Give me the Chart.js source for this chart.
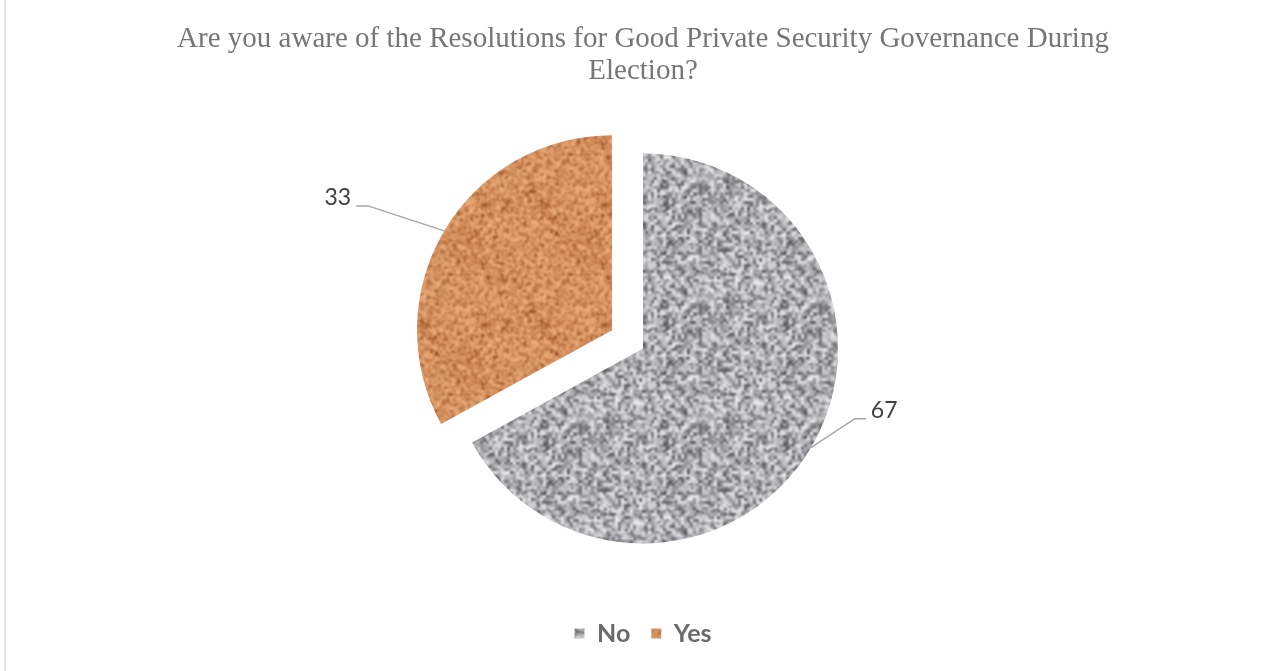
<!DOCTYPE html>
<html>
<head>
<meta charset="utf-8">
<title>Resolutions awareness</title>
<script src="https://cdn.jsdelivr.net/npm/chart.js@4/dist/chart.umd.min.js"></script>
<style>
	body { margin: 0; background: #fff; }
	#wrap { position: relative; width: 1277px; height: 671px; }
	#wrap:before { content: ""; position: absolute; left: 4px; top: 0; bottom: 0; border-left: 2px solid #e4e4e4; }
</style>
</head>
<body>
<div id="wrap"><canvas id="draw" width="1277" height="671"></canvas></div>
<script>
// Survey answers
const answerLabels = ["No", "Yes"];
const answerCounts = [67, 33];
const titleLines = ["Are you aware of the Resolutions for Good Private Security Governance During", "Election?"];

// Styling
const explodeBy = [0, 36]; // pixels each slice is pulled out from the centre
const leaderStyle = [
	{ dx: 44, dy: -29, run: 11, align: "left" },
	{ dx: -76, dy: -25, run: -12, align: "right" },
];

// Small seeded generator so the stone texture looks the same every load
function seeded(seed) {
	let s = seed >>> 0;
	return function () {
		s = (s * 1664525 + 1013904223) >>> 0;
		return s / 4294967296;
	};
}

function makeTexture(dark, light, cell, seed, speck) {
	const rand = seeded(seed);
	const size = 120;
	const raw = document.createElement("canvas");
	raw.width = raw.height = size;
	const rc = raw.getContext("2d");
	for (let y = 0; y < size; y += cell) {
		for (let x = 0; x < size; x += cell) {
			const t = Math.pow(rand(), 0.7);
			const c = dark.map((d, k) => Math.round(d + (light[k] - d) * t));
			rc.fillStyle = `rgb(${c[0]},${c[1]},${c[2]})`;
			rc.fillRect(x, y, cell, cell);
		}
	}
	// darker specks on top
	rc.fillStyle = speck;
	for (let i = 0; i < 90; i++) {
		rc.fillRect(Math.floor(rand() * (size - 2)), Math.floor(rand() * (size - 2)), 2, 2);
	}
	// tile 3x3 first, blur the whole sheet, then keep the middle tile so edges wrap cleanly
	const big = document.createElement("canvas");
	big.width = big.height = size * 3;
	const bc = big.getContext("2d");
	for (let j = 0; j < 3; j++) {
		for (let k = 0; k < 3; k++) bc.drawImage(raw, j * size, k * size);
	}
	const soft = document.createElement("canvas");
	soft.width = soft.height = size * 3;
	const sc = soft.getContext("2d");
	sc.filter = "blur(0.8px)";
	sc.drawImage(big, 0, 0);
	const out = document.createElement("canvas");
	out.width = out.height = size;
	out.getContext("2d").drawImage(soft, size, size, size, size, 0, 0, size, size);
	return out.getContext("2d").createPattern(out, "repeat");
}

const greyStone = makeTexture([80, 80, 86], [238, 238, 240], 3, 11, "rgba(40,40,45,0.8)");
const orangeStone = makeTexture([165, 90, 40], [246, 185, 135], 2, 29, "rgba(110,45,10,0.8)");

// Draw slices ourselves so the "Yes" wedge can be pulled out without resizing it
const explodePlugin = {
	id: "explode",
	beforeDatasetDraw(chart) {
		const ctx = chart.ctx;
		const meta = chart.getDatasetMeta(0);
		meta.data.forEach((arc, i) => {
			const mid = (arc.startAngle + arc.endAngle) / 2;
			ctx.save();
			ctx.translate(Math.cos(mid) * explodeBy[i], Math.sin(mid) * explodeBy[i]);
			arc.draw(ctx);
			ctx.restore();
		});
		return false;
	},
	afterDatasetsDraw(chart) {
		const ctx = chart.ctx;
		const meta = chart.getDatasetMeta(0);
		meta.data.forEach((arc, i) => {
			const mid = (arc.startAngle + arc.endAngle) / 2;
			const cx = arc.x + Math.cos(mid) * explodeBy[i];
			const cy = arc.y + Math.sin(mid) * explodeBy[i];
			const ax = cx + Math.cos(mid) * arc.outerRadius;
			const ay = cy + Math.sin(mid) * arc.outerRadius;
			const st = leaderStyle[i];
			const ex = ax + st.dx, ey = ay + st.dy;
			const tx = ex + st.run;
			ctx.save();
			ctx.strokeStyle = "#a6a6a6";
			ctx.lineWidth = 1.5;
			ctx.beginPath();
			ctx.moveTo(ax, ay);
			ctx.lineTo(ex, ey);
			ctx.lineTo(tx, ey);
			ctx.stroke();
			ctx.fillStyle = "#404040";
			ctx.font = "23px Lato";
			ctx.textAlign = st.align;
			ctx.textBaseline = "middle";
			ctx.fillText(String(answerCounts[i]), tx + (st.align === "left" ? 5 : -5), ey - 8);
			ctx.restore();
		});
	},
};

const config = {
	type: "pie",
	data: {
		labels: answerLabels,
		datasets: [
			{
				data: answerCounts,
				backgroundColor: [greyStone, orangeStone],
				borderWidth: 0,
			},
		],
	},
	options: {
		responsive: false,
		animation: false,
		radius: 195,
		layout: {
			padding: { left: 9, right: 0, top: 0, bottom: 15 },
		},
		plugins: {
			title: {
				display: true,
				text: titleLines,
				color: "#767676",
				font: { family: "Liberation Serif", size: 29, weight: "normal", lineHeight: 1.12 },
				padding: { top: 23, bottom: 9 },
			},
			legend: {
				position: "bottom",
				labels: {
					boxWidth: 10,
					boxHeight: 10,
					padding: 21,
					color: "#6b6b6b",
					font: { family: "Lato", size: 25, weight: "bold" },
				},
			},
			tooltip: { enabled: false },
		},
	},
	plugins: [explodePlugin],
};

const myChart = new Chart(document.getElementById("draw").getContext("2d"), config);
</script>
</body>
</html>
